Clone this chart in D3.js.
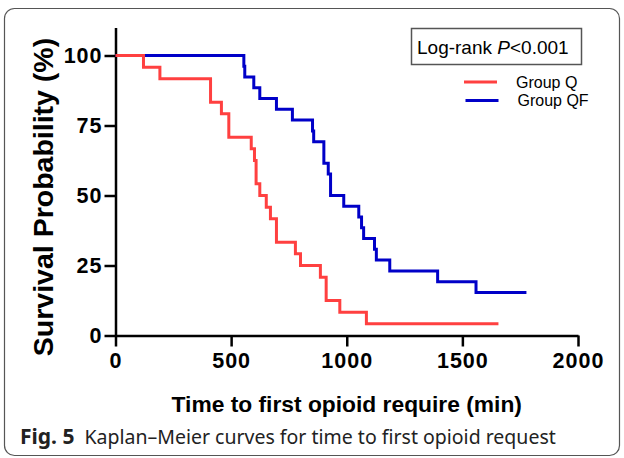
<!DOCTYPE html>
<html>
<head>
<meta charset="utf-8">
<script src="https://cdn.jsdelivr.net/npm/d3@7"></script>
<style>
  body { margin: 0; background: #fff; }
  svg { display: block; }
  .axis path, .axis line { stroke: #000; stroke-width: 2.5; }
  .axis text { font-family: "Liberation Sans", Arial, sans-serif; font-weight: bold; font-size: 21.5px; letter-spacing: 1px; fill: #000; }
</style>
</head>
<body>
<script>
var width = 624;
var height = 458;

// Kaplan-Meier step data (time in min, survival in %)
var qTimes = [0, 121, 192, 411, 458, 490, 587, 601, 608, 624, 652, 670, 696, 778, 800, 886, 911, 970, 1085, 1656];
var qSurv = [100, 95.83, 91.67, 83.33, 79.17, 70.83, 66.67, 62.5, 54.17, 50, 45.83, 41.67, 33.33, 29.17, 25, 20.83, 12.5, 8.33, 4.17, 4.17];

var qfTimes = [0, 555, 559, 598, 624, 696, 765, 852, 857, 901, 920, 930, 987, 1052, 1064, 1073, 1120, 1128, 1186, 1393, 1559, 1777];
var qfSurv = [100, 96.15, 92.31, 88.46, 84.62, 80.77, 76.92, 73.08, 69.23, 61.54, 57.69, 50, 46.15, 42.31, 38.46, 34.62, 30.77, 26.92, 23.08, 19.23, 15.38, 15.38];

var xTicks = [0, 500, 1000, 1500, 2000];
var yTicks = [0, 25, 50, 75, 100];

var groups = [
  { name: 'Group Q', color: '#ff4040', times: qTimes, surv: qSurv },
  { name: 'Group QF', color: '#0000c8', times: qfTimes, surv: qfSurv }
];

var svg = d3.select('body').append('svg')
  .attr('width', width)
  .attr('height', height);

// outer figure frame
svg.append('rect')
  .attr('x', 4.5).attr('y', 8.5)
  .attr('width', 615).attr('height', 447)
  .attr('rx', 10).attr('ry', 10)
  .attr('fill', 'none')
  .attr('stroke', '#555')
  .attr('stroke-width', 1.2);

var x = d3.scaleLinear().domain([0, 2000]).range([115.5, 578]);
var y = d3.scaleLinear().domain([0, 110]).range([335.5, 27.5]);

svg.append('g')
  .attr('class', 'axis')
  .attr('transform', 'translate(0,' + y(0) + ')')
  .call(d3.axisBottom(x).tickValues(xTicks).tickFormat(d3.format('d')).tickSize(11).tickSizeOuter(0).tickPadding(6));

svg.append('g')
  .attr('class', 'axis')
  .attr('transform', 'translate(' + x(0) + ',0)')
  .call(d3.axisLeft(y).tickValues(yTicks).tickSize(11).tickSizeOuter(0).tickPadding(2));

// survival curves, blue first so red sits on top at 100%
var line = d3.line()
  .curve(d3.curveStepAfter)
  .x(function(d) { return x(d[0]); })
  .y(function(d) { return y(d[1]); });

groups.slice().reverse().forEach(function(g) {
  svg.append('path')
    .datum(d3.zip(g.times, g.surv))
    .attr('fill', 'none')
    .attr('stroke', g.color)
    .attr('stroke-width', 3)
    .attr('d', line);
});

// axis titles
svg.append('text')
  .attr('x', x(1000)).attr('y', 412)
  .attr('text-anchor', 'middle')
  .style('font-family', '"Liberation Sans", Arial, sans-serif')
  .style('font-weight', 'bold')
  .style('font-size', '22.8px')
  .text('Time to first opioid require (min)');

svg.append('text')
  .attr('transform', 'translate(53,' + 197 + ') rotate(-90)')
  .attr('text-anchor', 'middle')
  .style('font-family', '"Liberation Sans", Arial, sans-serif')
  .style('font-weight', 'bold')
  .style('font-size', '28.5px')
  .text('Survival Probability (%)');

// log-rank box
svg.append('rect')
  .attr('x', 411.5).attr('y', 28.5)
  .attr('width', 170).attr('height', 36)
  .attr('fill', 'none')
  .attr('stroke', '#555')
  .attr('stroke-width', 1.5);

var lr = svg.append('text')
  .attr('x', 417).attr('y', 54)
  .style('font-family', '"Liberation Sans", Arial, sans-serif')
  .style('font-size', '19px');
lr.append('tspan').text('Log-rank ');
lr.append('tspan').style('font-style', 'italic').text('P');
lr.append('tspan').text('<0.001');

// legend
var leg = svg.selectAll('.leg').data(groups).enter().append('g')
  .attr('class', 'leg')
  .attr('transform', function(d, i) { return 'translate(' + (464 + i * 1.5) + ',' + (82 + i * 18.5) + ')'; });

leg.append('line')
  .attr('x1', 0).attr('x2', 33)
  .attr('stroke', function(d) { return d.color; })
  .attr('stroke-width', 3);

leg.append('text')
  .attr('x', 52).attr('y', 5.5)
  .style('font-family', '"Liberation Sans", Arial, sans-serif')
  .style('font-size', '16px')
  .text(function(d) { return d.name; });

// caption
var cap = svg.append('text')
  .attr('x', 20).attr('y', 444)
  .style('font-family', '"Noto Sans", sans-serif')
  .style('font-size', '19.5px')
  .style('fill', '#222');
cap.append('tspan').style('font-weight', 'bold').style('font-size', '21px').text('Fig. 5');
cap.append('tspan').attr('dx', 10).text('Kaplan\u2013Meier curves for time to first opioid request');
</script>
</body>
</html>
